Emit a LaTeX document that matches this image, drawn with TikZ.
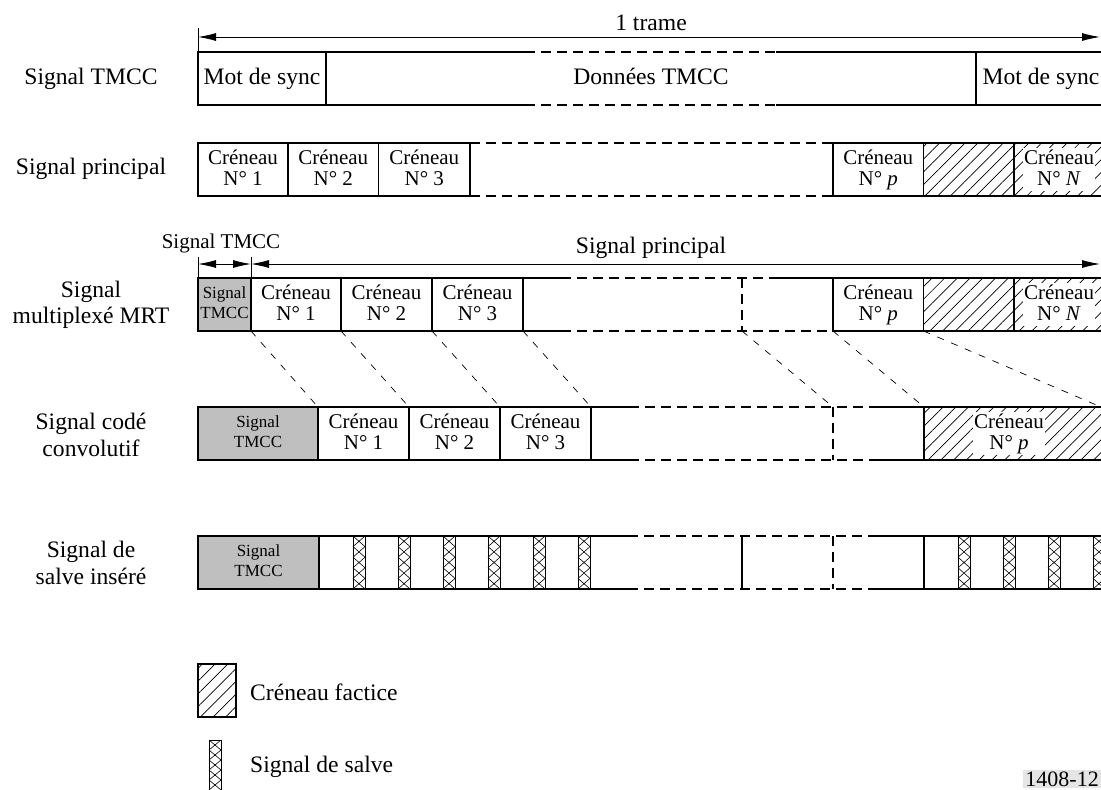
\documentclass[tikz,border=0pt]{standalone}
\usepackage{fontspec}
\setmainfont{Liberation Serif}
\usetikzlibrary{arrows.meta,patterns.meta}
\tikzset{
  cell/.style={draw, line width=1.1pt, anchor=north west, outer sep=0pt, minimum height=53pt,
    inner sep=0pt, align=center, text height=36pt, text depth=5pt, font=\fontsize{21}{21}\selectfont},
  gris/.style={cell, fill=black!25, text height=32pt, text depth=4pt, font=\fontsize{17}{20}\selectfont},
  factice/.style={cell, pattern={Lines[angle=45,distance=9pt,line width=0.7pt]}},
  blanc/.style={fill=white, inner sep=1pt, align=center, text height=36pt, text depth=5pt,
    font=\fontsize{21}{21}\selectfont},
  lbl/.style={align=center, inner sep=0pt, font=\fontsize{23.6}{26.5}\selectfont},
  mot/.style={text height=17pt, text depth=5pt, font=\fontsize{23.6}{26}\selectfont},
  plein/.style={line width=1.1pt},
  tirets/.style={line width=1.6pt, dash pattern=on 10pt off 6pt},
  renvoi/.style={line width=0.7pt, dash pattern=on 7pt off 8pt},
  cote/.style={line width=0.9pt, {Latex[length=18pt,width=8pt]}-{Latex[length=18pt,width=8pt]}},
}
\newcommand{\salve}[3]{%
  \foreach \k in {1,...,5} {
    \draw[line width=0.6pt] ({#1-6},{#2+#3*(\k-1)}) -- ({#1+6},{#2+#3*\k})
      ({#1+6},{#2+#3*(\k-1)}) -- ({#1-6},{#2+#3*\k});
  }
  \draw[line width=1pt] ({#1-6},#2) rectangle ({#1+6},{#2+5*#3});
}
\begin{document}
\begin{tikzpicture}[x=1pt,y=-1pt]
  \useasboundingbox (0,0) rectangle (1101,790);
  \clip (0,0) rectangle (1101,790);

  \node[lbl] (l1) at (91,79) {Signal TMCC};
  \node[lbl] (l2) at (91,169) {Signal principal};
  \node[lbl] (l3) at (91,305) {Signal\\multiplexé MRT};
  \node[lbl] (l4) at (91,435) {Signal codé\\convolutif};
  \node[lbl] (l5) at (91,563) {Signal de\\salve inséré};

  % 1 trame
  \coordinate (t0) at (198,37);
  \coordinate (t1) at (1100,37);
  \draw[cote] (t0) -- (t1);
  \draw[line width=0.9pt] (198,28) -- (198,52);
  \node[lbl] (trame) at (651,23) {1 trame};

  \node[cell, mot, minimum width=128pt] (m1) at (198,52) {Mot de sync};
  \node[cell, mot, minimum width=130pt] (m2) at (976,52) {Mot de sync};
  \node[mot, inner sep=0pt] (d1) at (651,78.5) {Données TMCC};
  \draw[plein] (326,52) -- (525,52) (326,105) -- (525,105) (776,52) -- (976,52) (776,105) -- (976,105);
  \draw[tirets] (525,52) -- (776,52) (525,105) -- (776,105);

  \node[cell, minimum width=90pt] (c21) at (198,143) {Créneau\\N° 1};
  \node[cell, minimum width=90.5pt] (c22) at (288,143) {Créneau\\N° 2};
  \node[cell, minimum width=91.5pt] (c23) at (378.5,143) {Créneau\\N° 3};
  \draw[tirets] (470,143) -- (833,143) (470,196) -- (833,196);
  \node[cell, minimum width=90.5pt] (c2p) at (833,143) {Créneau\\N° \textit{p}};
  \node[factice, minimum width=90.5pt] (c2f) at (923.5,143) {};
  \node[factice, minimum width=90pt] (c2n) at (1014,143) {};
  \node[blanc] (t2n) at (c2n) {Créneau\\N° \textit{N}};

  % multiplexe
  \coordinate (s0) at (198,264);
  \coordinate (s1) at (251,264);
  \coordinate (s2) at (1100,264);
  \draw[cote] (s0) -- (s1);
  \draw[cote] (s1) -- (s2);
  \draw[line width=0.9pt] (198,257) -- (198,278) (251,257) -- (251,278);
  \node[lbl, font=\fontsize{21}{24}\selectfont] (st) at (221,243) {Signal TMCC};
  \node[lbl] (sp) at (651,248) {Signal principal};

  \node[gris, minimum width=53pt] (g3) at (198,278) {Signal\\TMCC};
  \node[cell, minimum width=90pt] (c31) at (251,278) {Créneau\\N° 1};
  \node[cell, minimum width=91pt] (c32) at (341,278) {Créneau\\N° 2};
  \node[cell, minimum width=91pt] (c33) at (432,278) {Créneau\\N° 3};
  \draw[plein] (523,278) -- (561,278) (523,331) -- (561,331) (776,278) -- (833,278);
  \draw[tirets] (561,278) -- (776,278) (561,331) -- (833,331) (742,278) -- (742,331);
  \node[cell, minimum width=90.5pt] (c3p) at (833,278) {Créneau\\N° \textit{p}};
  \node[factice, minimum width=90.5pt] (c3f) at (923.5,278) {};
  \node[factice, minimum width=90pt] (c3n) at (1014,278) {};
  \node[blanc] (t3n) at (c3n) {Créneau\\N° \textit{N}};

  % code convolutif
  \node[gris, minimum width=120pt] (g4) at (198,407) {Signal\\TMCC};
  \node[cell, minimum width=91pt] (c41) at (318,407) {Créneau\\N° 1};
  \node[cell, minimum width=91pt] (c42) at (409,407) {Créneau\\N° 2};
  \node[cell, minimum width=91pt] (c43) at (500,407) {Créneau\\N° 3};
  \draw[plein] (591,407) -- (629,407) (591,460) -- (629,460) (878,407) -- (924,407) (878,460) -- (924,460);
  \draw[tirets] (629,407) -- (878,407) (629,460) -- (878,460) (833,407) -- (833,460);
  \node[factice, minimum width=190pt] (c4p) at (924,407) {};
  \node[blanc] (t4p) at (1009,433.5) {Créneau\\N° \textit{p}};

  \coordinate (v3) at (742,331);
  \coordinate (v4) at (833,407);
  \coordinate (e4) at (1101,407);
  \begin{scope}[renvoi]
    \draw (g3.south east) -- (g4.north east);
    \draw (c31.south east) -- (c41.north east);
    \draw (c32.south east) -- (c42.north east);
    \draw (c33.south east) -- (c43.north east);
    \draw (v3) -- (v4);
    \draw (c3p.south west) -- (c4p.north west);
    \draw (c3f.south west) -- (e4);
  \end{scope}

  % salve
  \node[gris, minimum width=121pt] (g5) at (198,536) {Signal\\TMCC};
  \draw[plein] (319,536) -- (628,536) (319,589) -- (628,589) (878,536) -- (1110,536) (878,589) -- (1110,589)
    (742,536) -- (742,589) (924,536) -- (924,589);
  \draw[tirets] (628,536) -- (878,536) (628,589) -- (878,589) (833,536) -- (833,589);
  \foreach \x in {359,404,...,584} {\salve{\x}{536}{10.6}}
  \foreach \x in {964,1009,...,1099} {\salve{\x}{536}{10.6}}

  % legende
  \node[factice, minimum width=38pt] (lf) at (198,664) {};
  \node[lbl, anchor=west] (tf) at (250,692) {Créneau factice};
  \salve{215}{740}{10}
  \node[lbl, anchor=west] (ts) at (250,767) {Signal de salve};
  \node[fill=black!10, inner sep=2pt, anchor=east, font=\fontsize{22}{24}\selectfont] (ref) at (1101,779) {1408-12};
\end{tikzpicture}
\end{document}
